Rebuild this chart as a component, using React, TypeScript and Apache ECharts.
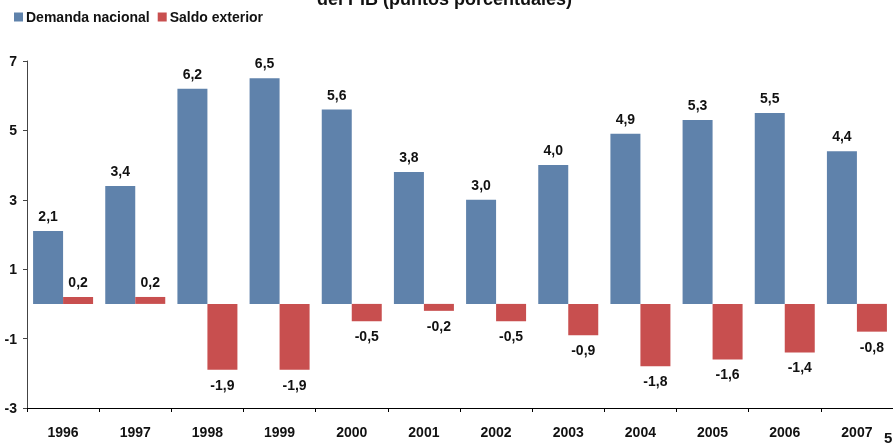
import React, { useEffect, useRef } from "react";
import * as echarts from "echarts";

const categories = ["1996", "1997", "1998", "1999", "2000", "2001", "2002", "2003", "2004", "2005", "2006", "2007"];
const demandaNacional = [2.1, 3.4, 6.2, 6.5, 5.6, 3.8, 3.0, 4.0, 4.9, 5.3, 5.5, 4.4];
const saldoExterior = [0.2, 0.2, -1.9, -1.9, -0.5, -0.2, -0.5, -0.9, -1.8, -1.6, -1.4, -0.8];
const yMin = -3;
const yMax = 7;
const yInterval = 2;

const FONT = "'Liberation Sans', Arial, sans-serif";
const fmt = (v: number) => v.toFixed(1).replace(".", ",");

export default function App() {
  const ref = useRef<HTMLDivElement>(null);
  useEffect(() => {
    if (!ref.current) return;
    const chart = echarts.init(ref.current, null, { renderer: "svg" });
    const labelStyle = {
      show: true,
      fontFamily: FONT,
      fontWeight: "bold" as const,
      fontSize: 14,
      color: "#111",
      distance: 8,
      formatter: (p: any) => fmt(p.value as number),
    };
    chart.setOption({
      animation: false,
      title: {
        text: "del PIB (puntos porcentuales)",
        left: 317,
        top: -10,
        padding: 0,
        textStyle: { fontFamily: FONT, fontWeight: "bold", fontSize: 18, color: "#111" },
      },
      legend: {
        left: 14,
        top: 10,
        padding: 0,
        itemWidth: 9,
        itemHeight: 9,
        itemGap: 8,
        icon: "rect",
        textStyle: { fontFamily: FONT, fontWeight: "bold", fontSize: 14, color: "#111", padding: [0, 0, 0, -2] },
        data: ["Demanda nacional", "Saldo exterior"],
      },
      grid: { left: 27, top: 61, bottom: 36, right: -9, containLabel: false },
      xAxis: [
        {
          type: "category",
          data: categories,
          position: "bottom",
          axisLine: { show: false },
          axisTick: { show: false },
          axisLabel: { fontFamily: FONT, fontWeight: "bold", fontSize: 14, color: "#111", margin: 17 },
        },
        {
          type: "category",
          data: categories,
          position: "bottom",
          axisLine: { show: true, onZero: true, lineStyle: { color: "#000", width: 1 } },
          axisTick: { show: true, length: 4, lineStyle: { color: "#000" } },
          axisLabel: { show: false },
        },
      ],
      yAxis: {
        type: "value",
        min: yMin,
        max: yMax,
        interval: yInterval,
        splitLine: { show: false },
        axisLine: { show: true, lineStyle: { color: "#444" } },
        axisTick: { show: true, length: 4, lineStyle: { color: "#444" } },
        axisLabel: { fontFamily: FONT, fontWeight: "bold", fontSize: 14, color: "#111", margin: 10 },
      },
      series: [
        {
          name: "Demanda nacional",
          type: "bar",
          xAxisIndex: 0,
          barWidth: 30,
          barGap: "0%",
          itemStyle: { color: "#5f82ab" },
          label: { ...labelStyle, position: "top" },
          data: demandaNacional.map((v) => ({ value: v })),
        },
        {
          name: "Saldo exterior",
          type: "bar",
          xAxisIndex: 0,
          barWidth: 30,
          barGap: "0%",
          itemStyle: { color: "#c84f4f" },
          data: saldoExterior.map((v) => ({
            value: v,
            label: { ...labelStyle, position: v < 0 ? "bottom" : "top" },
          })),
        },
      ],
      graphic: [
        {
          type: "text",
          left: 884,
          top: 430,
          style: { text: "5", fontFamily: FONT, fontWeight: "bold", fontSize: 15, fill: "#111" },
        },
      ],
    });
    return () => chart.dispose();
  }, []);
  return <div ref={ref} style={{ position: "fixed", left: 0, top: 0, width: 893, height: 444 }} />;
}
